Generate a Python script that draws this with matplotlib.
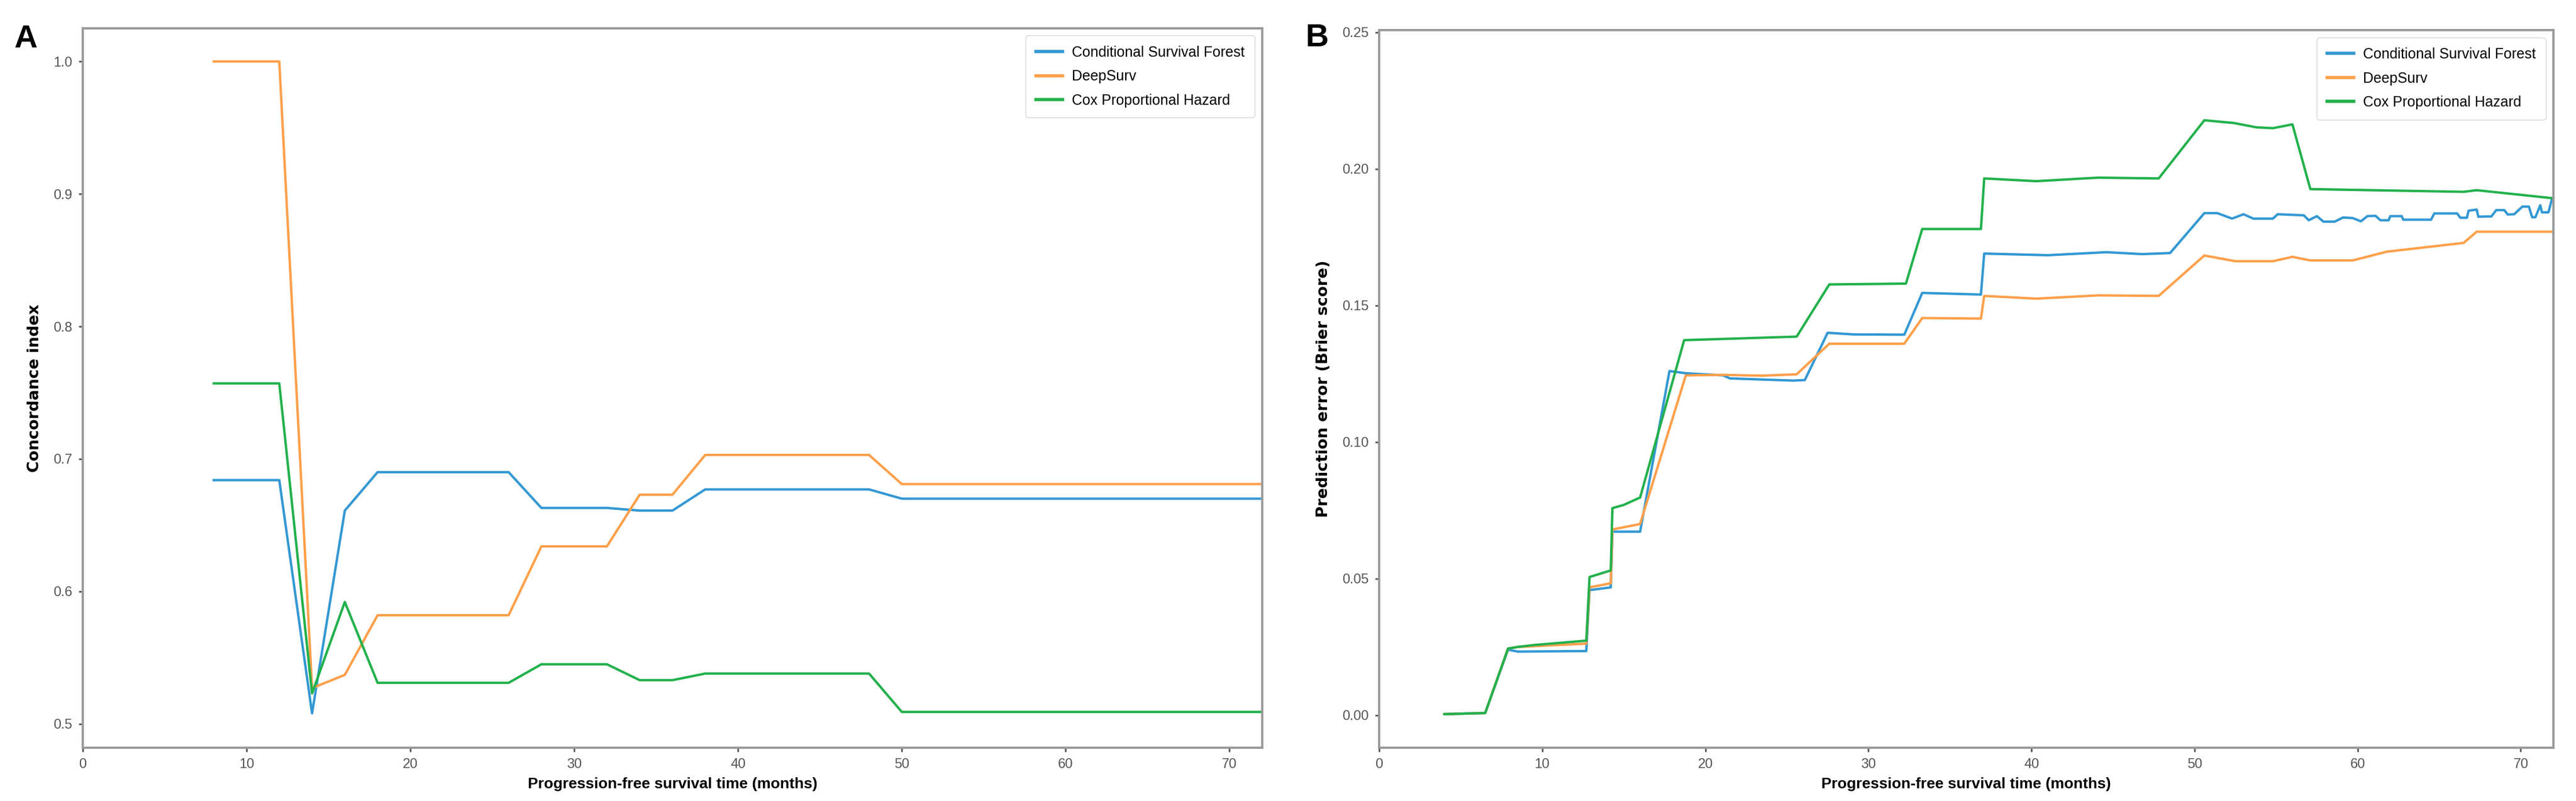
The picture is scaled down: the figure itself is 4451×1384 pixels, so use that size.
import numpy as np
import matplotlib
matplotlib.use('Agg')
import matplotlib.pyplot as plt

# Series names and colours
names = ['Conditional Survival Forest', 'DeepSurv', 'Cox Proportional Hazard']
colors = ['#3398d3', '#ff9f4a', '#22b14c']

# Panel A: concordance index over time
t_a = [8, 12, 14, 16, 18, 26, 28, 32, 34, 36, 38, 48, 50, 72]
csf_a = [0.684, 0.684, 0.508, 0.661, 0.690, 0.690, 0.663, 0.663, 0.661, 0.661, 0.677, 0.677, 0.670, 0.670]
ds_a = [1.0, 1.0, 0.527, 0.537, 0.582, 0.582, 0.634, 0.634, 0.673, 0.673, 0.703, 0.703, 0.681, 0.681]
cox_a = [0.757, 0.757, 0.523, 0.592, 0.531, 0.531, 0.545, 0.545, 0.533, 0.533, 0.538, 0.538, 0.509, 0.509]

# Panel B: Brier score over time
t_csf = [4.0, 6.5, 7.9, 8.5, 12.7, 12.9, 14.2, 14.3, 16.0, 17.8, 18.8, 21.1, 21.5, 25.4, 26.1,
         27.5, 29.1, 32.2, 33.3, 36.9, 37.1, 41.0, 44.6, 46.8, 48.5, 50.6, 51.4, 52.3, 53.0,
         53.6, 54.8, 55.1, 56.7, 57.0, 57.5, 57.9, 58.6, 59.1, 59.7, 60.2, 60.6, 61.1, 61.4,
         61.9, 62.0, 62.7, 62.8, 64.5, 64.7, 66.1, 66.3, 66.7, 66.8, 67.3, 67.4, 68.2, 68.5,
         69.0, 69.2, 69.6, 70.1, 70.5, 70.7, 70.9, 71.2, 71.3, 71.7, 71.9]
csf_b = [0.0004, 0.0008, 0.0240, 0.0233, 0.0235, 0.0458, 0.0468, 0.0672, 0.0672, 0.1260, 0.1252,
         0.1244, 0.1233, 0.1225, 0.1227, 0.1400, 0.1394, 0.1393, 0.1546, 0.1540, 0.1690, 0.1684,
         0.1695, 0.1688, 0.1692, 0.1838, 0.1838, 0.1818, 0.1834, 0.1818, 0.1818, 0.1834, 0.1830,
         0.1812, 0.1827, 0.1807, 0.1807, 0.1822, 0.1820, 0.1808, 0.1827, 0.1828, 0.1812, 0.1812,
         0.1827, 0.1827, 0.1814, 0.1814, 0.1837, 0.1837, 0.1821, 0.1821, 0.1847, 0.1851, 0.1825,
         0.1826, 0.1849, 0.1849, 0.1833, 0.1834, 0.1862, 0.1862, 0.1823, 0.1823, 0.1867, 0.1841,
         0.1841, 0.1886]

t_ds = [4.0, 6.5, 7.9, 8.5, 12.7, 12.9, 14.2, 14.3, 16.0, 18.8, 21.0, 23.5, 25.6, 27.6, 32.2,
        33.3, 36.9, 37.1, 40.3, 44.1, 47.8, 50.6, 52.5, 54.8, 56.0, 57.1, 59.7, 61.8, 66.5, 67.3, 71.9]
ds_b = [0.0004, 0.0008, 0.0244, 0.0250, 0.0262, 0.0468, 0.0483, 0.0680, 0.0700, 0.1244, 0.1246,
        0.1243, 0.1248, 0.1360, 0.1360, 0.1454, 0.1452, 0.1535, 0.1525, 0.1537, 0.1535, 0.1683,
        0.1662, 0.1662, 0.1678, 0.1665, 0.1665, 0.1697, 0.1729, 0.1770, 0.1770]

t_cox = [4.0, 6.5, 7.9, 8.5, 9.5, 12.7, 12.9, 14.2, 14.3, 15.0, 16.0, 18.7, 25.6, 27.6, 32.3,
         33.3, 36.9, 37.1, 40.3, 44.1, 47.8, 50.6, 52.4, 53.8, 54.8, 56.0, 57.1, 66.5, 67.3, 71.9]
cox_b = [0.0004, 0.0008, 0.0244, 0.0250, 0.0257, 0.0273, 0.0506, 0.0530, 0.0758, 0.0770, 0.0797,
         0.1373, 0.1386, 0.1577, 0.1580, 0.1780, 0.1780, 0.1965, 0.1955, 0.1968, 0.1965, 0.2178,
         0.2168, 0.2152, 0.2149, 0.2163, 0.1926, 0.1916, 0.1922, 0.1893]

narrow = ['Liberation Sans Narrow', 'Liberation Sans']

fig = plt.figure(figsize=(44.51, 13.84), dpi=100)
ax1 = fig.add_axes([0.0321, 0.0665, 0.4579, 0.8981])
ax2 = fig.add_axes([0.5354, 0.0665, 0.4558, 0.8959])

def style(ax, ylab):
    for s in ax.spines.values():
        s.set_color('#9a9a9a')
        s.set_linewidth(2.8)
    ax.tick_params(length=5, width=2, color='#555555', labelcolor='#555555', pad=8)
    for lab in ax.get_xticklabels() + ax.get_yticklabels():
        lab.set_family(narrow)
        lab.set_fontsize(17)
    ax.set_xlabel('Progression-free survival time (months)', family=narrow, fontsize=19,
                  fontweight='bold', labelpad=8)
    ax.set_ylabel(ylab, family='DejaVu Sans', fontsize=19.5, fontweight='bold', labelpad=14)
    leg = ax.legend(loc='upper right', prop={'family': narrow, 'size': 18}, handlelength=1.85,
                    handletextpad=0.65, labelspacing=0.7, borderaxespad=0.5, borderpad=0.7)
    for h in leg.get_lines():
        h.set_linewidth(4)

# Panel A
ax1.plot(t_a, csf_a, color=colors[0], lw=3, label=names[0])
ax1.plot(t_a, ds_a, color=colors[1], lw=3, label=names[1])
ax1.plot(t_a, cox_a, color=colors[2], lw=3, label=names[2])
ax1.set_xlim(0, 72)
ax1.set_ylim(0.482, 1.025)
ax1.set_xticks(np.arange(0, 71, 10))
ax1.set_yticks([0.5, 0.6, 0.7, 0.8, 0.9, 1.0])
style(ax1, 'Concordance index')

# Panel B
ax2.plot(t_csf, csf_b, color=colors[0], lw=3, label=names[0])
ax2.plot(t_ds, ds_b, color=colors[1], lw=3, label=names[1])
ax2.plot(t_cox, cox_b, color=colors[2], lw=3, label=names[2])
ax2.set_xlim(0, 72)
ax2.set_ylim(-0.0119, 0.2508)
ax2.set_xticks(np.arange(0, 71, 10))
ax2.set_yticks([0.0, 0.05, 0.10, 0.15, 0.20, 0.25])
ax2.set_yticklabels(['0.00', '0.05', '0.10', '0.15', '0.20', '0.25'])
style(ax2, 'Prediction error (Brier score)')

# Panel letters
fig.text(25 / 4451, 1 - 82 / 1384, 'A', family=narrow, fontsize=40, fontweight='bold')
fig.text(2255 / 4451, 1 - 80 / 1384, 'B', family=narrow, fontsize=40, fontweight='bold')

fig.savefig('out.png', dpi=100)
